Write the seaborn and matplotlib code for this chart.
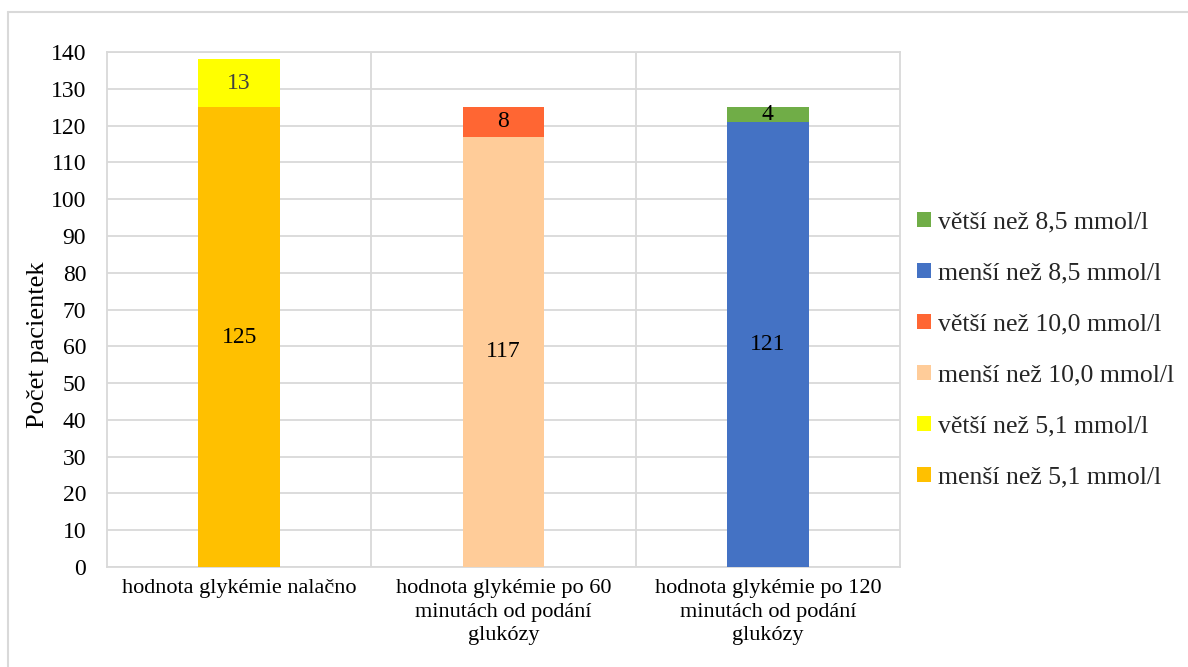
import matplotlib
matplotlib.use("Agg")
import matplotlib.pyplot as plt
from matplotlib.lines import Line2D
from matplotlib.patches import Patch
import seaborn as sns
import numpy as np

sns.set_theme(style="white")
plt.rcParams["font.family"] = ["Liberation Serif", "DejaVu Serif"]

categories = [
    "hodnota glykémie nalačno",
    "hodnota glykémie po 60\nminutách od podání\nglukózy",
    "hodnota glykémie po 120\nminutách od podání\nglukózy",
]
lower_labels = ["menší než 5,1 mmol/l", "menší než 10,0 mmol/l", "menší než 8,5 mmol/l"]
upper_labels = ["větší než 5,1 mmol/l", "větší než 10,0 mmol/l", "větší než 8,5 mmol/l"]
lower_values = [125, 117, 121]
upper_values = [13, 8, 4]
lower_colors = ["#FFC000", "#FFCC99", "#4472C4"]
upper_colors = ["#FFFF00", "#FF6633", "#70AD47"]
upper_text_colors = ["#404040", "black", "black"]

W, H = 1188, 667
fig = plt.figure(figsize=(W / 100, H / 100), dpi=100)
ax = fig.add_axes([107 / W, 1 - 567 / H, (900 - 107) / W, (567 - 52) / H])

grid_color = "#D9D9D9"
bar_w = 0.31

for i, cat in enumerate(categories):
    lo = [lower_values[i] if j == i else 0 for j in range(3)]
    up = [upper_values[i] if j == i else 0 for j in range(3)]
    sns.barplot(x=categories, y=lo, color=lower_colors[i], width=bar_w,
                saturation=1, ax=ax, linewidth=0, zorder=3)
    sns.barplot(x=categories, y=up, bottom=lo, color=upper_colors[i], width=bar_w,
                saturation=1, ax=ax, linewidth=0, zorder=3)
    ax.text(i, lower_values[i] / 2, str(lower_values[i]), ha="center", va="center",
            fontsize=17, color="black", zorder=4)
    ax.text(i, lower_values[i] + upper_values[i] / 2, str(upper_values[i]),
            ha="center", va="center", fontsize=17, color=upper_text_colors[i], zorder=4)

ax.set_xlim(-0.5, 2.5)
ax.set_ylim(0, 140)
ax.set_yticks(np.arange(0, 141, 10))
ax.yaxis.grid(True, color=grid_color, linewidth=1.3, zorder=0)
for xb in [0.5, 1.5]:
    ax.axvline(xb, color=grid_color, linewidth=1.3, zorder=0)
for s in ax.spines.values():
    s.set_color(grid_color)
    s.set_linewidth(1.3)
ax.tick_params(axis="y", length=0, labelsize=17, colors="black", pad=15)
ax.tick_params(axis="x", length=0, labelsize=16, colors="black", pad=9)
for lab in ax.get_xticklabels():
    lab.set_linespacing(1.3)
ax.set_xlabel("")
ax.set_ylabel("Počet pacientek", fontsize=19, color="black")
ax.yaxis.set_label_coords((38 - 107) / 793, (567 - 345) / 515)
ax.yaxis.label.set_va("center")
ax.yaxis.label.set_ha("center")

# legend, top to bottom
handles, labels = [], []
for i in reversed(range(3)):
    handles.append(Patch(facecolor=upper_colors[i], edgecolor="none"))
    labels.append(upper_labels[i])
    handles.append(Patch(facecolor=lower_colors[i], edgecolor="none"))
    labels.append(lower_labels[i])
fig.legend(handles, labels, loc="center left", bbox_to_anchor=(917 / W, 1 - 350 / H),
           frameon=False, fontsize=18.5, handlelength=0.55, handleheight=0.55,
           handletextpad=0.25, labelspacing=1.13, borderaxespad=0, borderpad=0)

# outer chart frame
fig.add_artist(Line2D([8 / W, 8 / W], [0, 1 - 12 / H], color=grid_color,
                      linewidth=1.5, transform=fig.transFigure))
fig.add_artist(Line2D([8 / W, 1], [1 - 12 / H, 1 - 12 / H], color=grid_color,
                      linewidth=1.5, transform=fig.transFigure))

fig.savefig("out.png", dpi=100)
